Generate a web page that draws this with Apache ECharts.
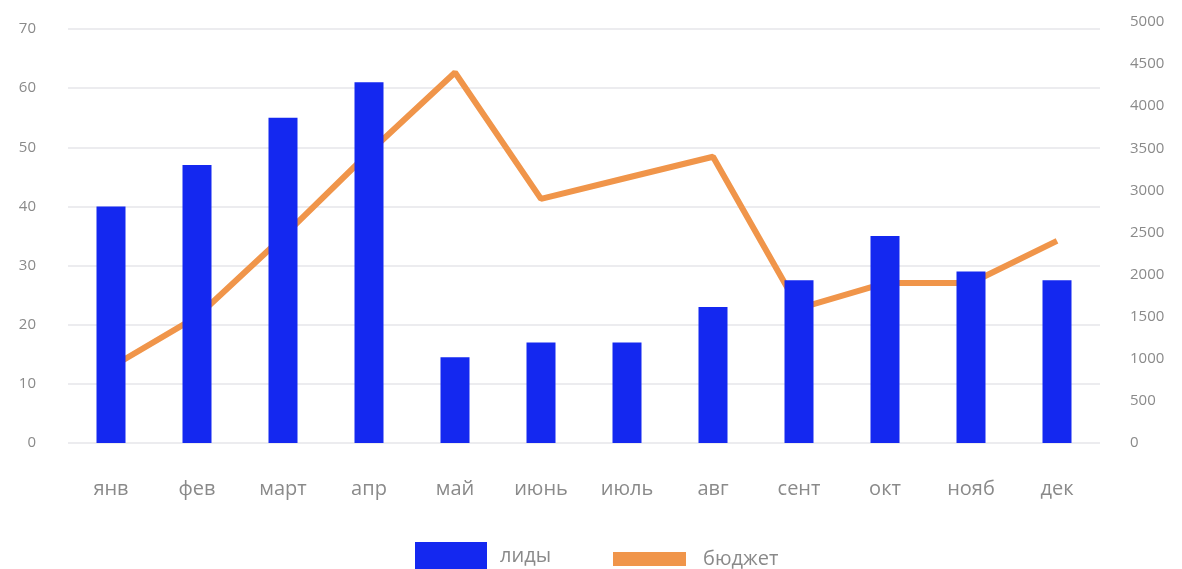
<!DOCTYPE html>
<html lang="ru">
<head>
    <meta charset="UTF-8">
    <title>лиды и бюджет</title>
    <style>
      * { padding: 0; margin: 0; }
      body { background: #fff; }
    </style>
</head>
<body>
    <div id="main" style="width: 1182px;height:569px;"></div>
    <script src="https://cdn.jsdelivr.net/npm/echarts@6/dist/echarts.min.js"></script>
    <script>
        // данные по месяцам
        var months = ['янв', 'фев', 'март', 'апр', 'май', 'июнь', 'июль', 'авг', 'сент', 'окт', 'нояб', 'дек'];
        var leads = [40, 47, 55, 61, 14.5, 17, 17, 23, 27.5, 35, 29, 27.5];
        var budget = [900, 1500, 2450, 3450, 4400, 2900, 3150, 3400, 1600, 1900, 1900, 2400];

        var labelColor = '#8a8a8a';
        var font = 'Open Sans';

        var option = {
            animation: false,
            legend: [
                {
                    data: ['лиды'],
                    left: 415,
                    top: 542,
                    padding: 0,
                    icon: 'rect',
                    itemWidth: 72,
                    itemHeight: 28,
                    textStyle: { color: labelColor, fontSize: 20, fontFamily: font, padding: [0, 0, 0, 8] }
                },
                {
                    data: ['бюджет'],
                    left: 613,
                    top: 549,
                    padding: 0,
                    icon: 'rect',
                    itemWidth: 73,
                    itemHeight: 14,
                    textStyle: { color: labelColor, fontSize: 20, fontFamily: font, padding: [0, 0, 0, 12] }
                }
            ],
            grid: [
                { left: 68, right: 82, top: 29, bottom: 126 },   // столбцы
                { left: 68, right: 82, top: 22, bottom: 126 }    // линия, своя шкала справа
            ],
            xAxis: [
                {
                    type: 'category',
                    gridIndex: 0,
                    data: months,
                    axisLine: { show: false },
                    axisTick: { show: false },
                    axisLabel: { color: labelColor, fontSize: 20, fontFamily: font, margin: 36 }
                },
                {
                    type: 'category',
                    gridIndex: 1,
                    data: months,
                    show: false
                }
            ],
            yAxis: [
                {
                    type: 'value',
                    gridIndex: 0,
                    min: 0,
                    max: 70,
                    interval: 10,
                    axisLine: { show: false },
                    axisTick: { show: false },
                    axisLabel: { color: labelColor, fontSize: 15, fontFamily: font, margin: 32 },
                    splitLine: { show: true, lineStyle: { color: '#e6e6ea', width: 1.5 } }
                },
                {
                    type: 'value',
                    gridIndex: 1,
                    position: 'right',
                    min: 0,
                    max: 5000,
                    interval: 500,
                    axisLine: { show: false },
                    axisTick: { show: false },
                    axisLabel: {
                        color: labelColor, fontSize: 15, fontFamily: font, margin: 30,
                        formatter: function (v) { return String(v); }
                    },
                    splitLine: { show: false }
                }
            ],
            series: [
                {
                    name: 'бюджет',
                    type: 'line',
                    xAxisIndex: 1,
                    yAxisIndex: 1,
                    data: budget,
                    symbol: 'none',
                    z: 2,
                    itemStyle: { color: '#f0954a' },
                    lineStyle: { color: '#f0954a', width: 6 }
                },
                {
                    name: 'лиды',
                    type: 'bar',
                    xAxisIndex: 0,
                    yAxisIndex: 0,
                    data: leads,
                    barWidth: 29,
                    z: 3,
                    itemStyle: { color: '#1428f0' }
                }
            ]
        };

        var myChart = echarts.init(document.getElementById('main'));
        myChart.setOption(option);
    </script>
</body>
</html>
